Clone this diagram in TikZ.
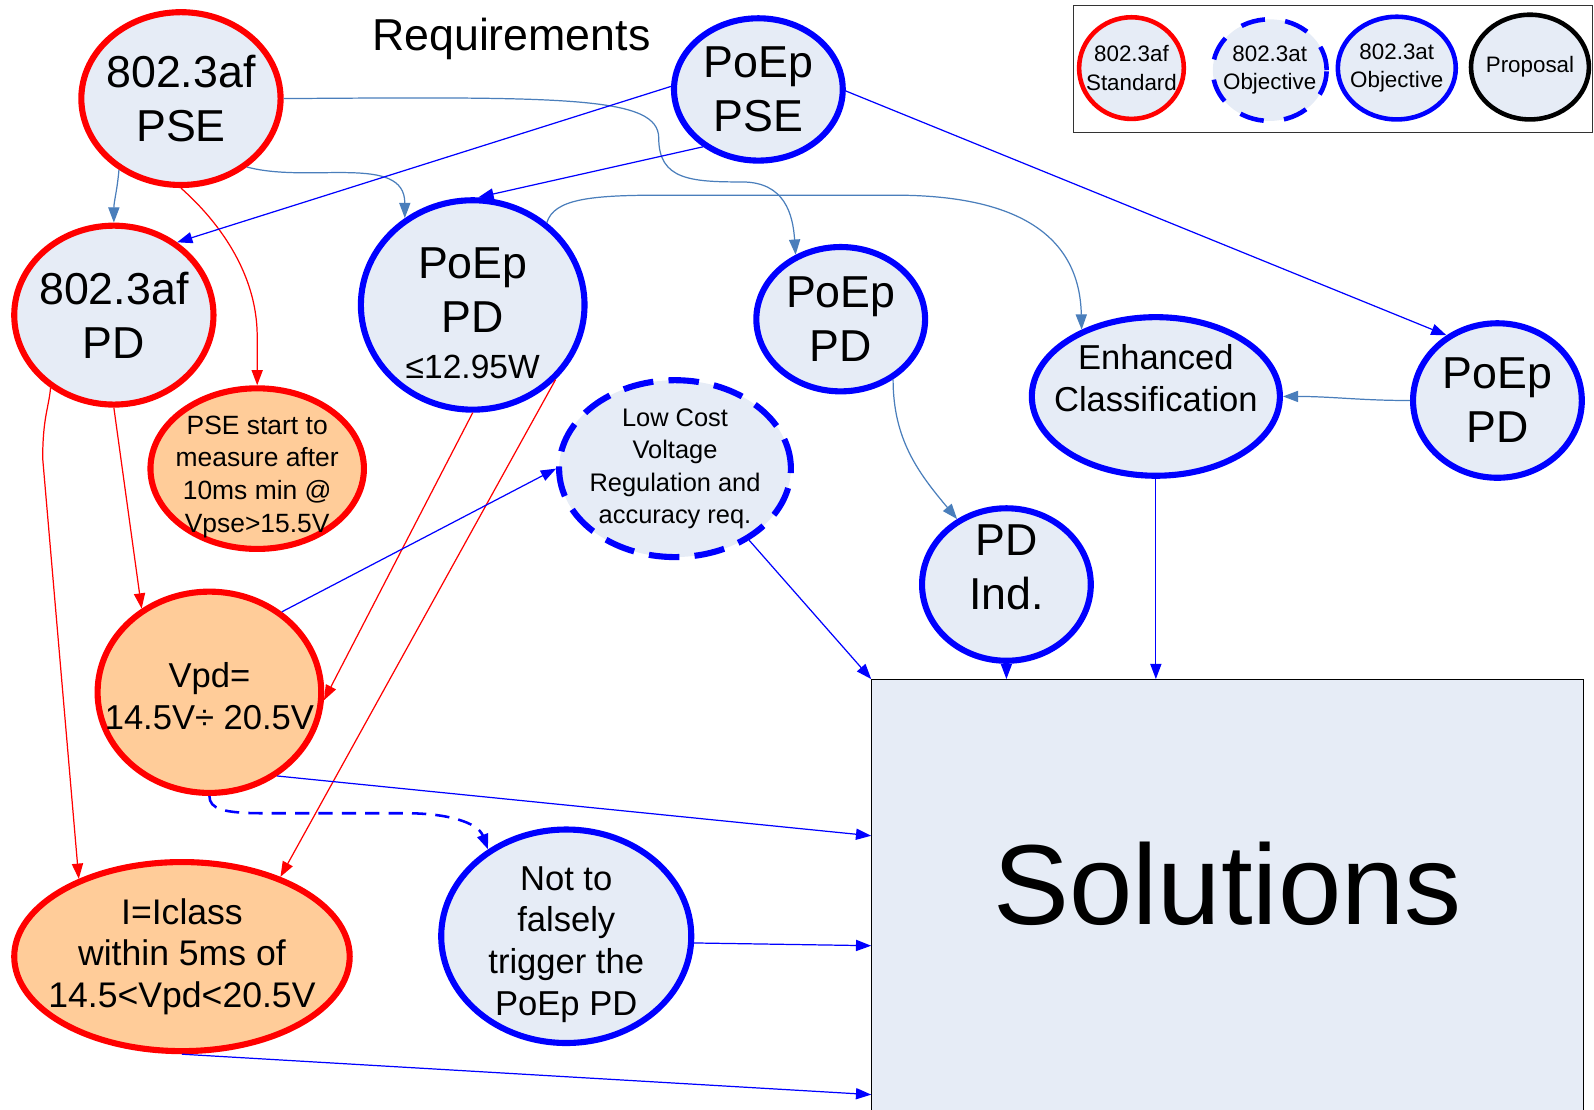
\documentclass[tikz,border=0pt]{standalone}
\usepackage{fontspec}
\setmainfont{Liberation Sans}
\usetikzlibrary{calc, positioning, arrows.meta, shapes.geometric}

\definecolor{bubble}{RGB}{230,236,246}
\definecolor{peach}{RGB}{255,204,153}
\definecolor{afred}{RGB}{255,0,0}
\definecolor{atblue}{RGB}{0,0,255}
\definecolor{steel}{RGB}{74,126,187}

\begin{document}
\begin{tikzpicture}[
    x=1pt, y=1pt,
    >={Triangle[length=15pt, width=11pt]},
    afnode/.style={draw=afred, line width=6pt, ellipse, fill=bubble, inner sep=0pt},
    atnode/.style={draw=atblue, line width=6pt, ellipse, fill=bubble, inner sep=0pt},
    atdash/.style={atnode, dash pattern=on 30pt off 15pt},
    txt/.style={align=center, inner sep=0pt, font=\fontsize{44}{53}\selectfont},
    midtxt/.style={align=center, inner sep=0pt, font=\fontsize{34}{41}\selectfont},
    smalltxt/.style={align=center, inner sep=0pt, font=\fontsize{26}{32}\selectfont},
    legtxt/.style={align=center, inner sep=0pt, font=\fontsize{22}{28}\selectfont},
    legbox/.style={draw=black!80, line width=1.2pt, minimum width=511pt, minimum height=125pt},
    redline/.style={color=afred, line width=1.2pt},
    blueline/.style={color=atblue, line width=1.2pt},
    steelline/.style={color=steel, line width=1.2pt}
]
    \useasboundingbox (0,0) rectangle (1568,1091);

    % Title
    \node[txt] (req) at (503,1053) {Requirements};

    % Legend
    \node[legbox, anchor=north west] (legend) at (1055,1086) {};
    \node[afnode, line width=4.5pt, minimum width=103pt, minimum height=100pt] (legaf) at (1113,1024) {};
    \node[legtxt] (legaf-t) at (legaf) {802.3af\\Standard};
    \node[atnode, line width=4.5pt, dash pattern=on 24pt off 20pt, minimum width=112pt, minimum height=100pt] (legdash) at (1249,1022) {};
    \node[legtxt] (legdash-t) at (legdash) {802.3at\\Objective};
    \node[atnode, line width=4.5pt, minimum width=116pt, minimum height=101pt] (legat) at (1374,1024) {};
    \node[legtxt] (legat-t) at (legat) {802.3at\\Objective};
    \node[atnode, draw=black, line width=4.5pt, minimum width=116pt, minimum height=103pt] (legprop) at (1505,1025) {};
    \node[legtxt] (legprop-t) at (legprop) {Proposal};

    % Sources
    \node[afnode, minimum width=196pt, minimum height=170pt] (afpse) at (178,994) {};
    \node[txt] (afpse-t) at (afpse) {802.3af\\PSE};
    \node[atnode, minimum width=166pt, minimum height=140pt] (poepse) at (746,1003) {};
    \node[txt] (poepse-t) at (poepse) {PoEp\\PSE};

    % Powered devices
    \node[afnode, minimum width=196pt, minimum height=176pt] (afpd) at (112,781) {};
    \node[txt] (afpd-t) at (afpd) {802.3af\\PD};
    \node[atnode, minimum width=220pt, minimum height=206pt] (ppd) at (465,791) {};
    \node[txt] (ppd-t) at ([yshift=-8pt]ppd.center) {PoEp\\PD\\[-8pt]{\fontsize{33}{40}\selectfont ≤12.95W}};
    \node[atnode, minimum width=166pt, minimum height=142pt] (ppdmid) at (827,777) {};
    \node[txt] (ppdmid-t) at (ppdmid) {PoEp\\PD};
    \node[atnode, minimum width=166pt, minimum height=152pt] (ppdr) at (1473,697) {};
    \node[txt] (ppdr-t) at (ppdr) {PoEp\\PD};
    \node[atnode, minimum width=244pt, minimum height=156pt] (enh) at (1137,701) {};
    \node[midtxt] (enh-t) at ([yshift=18pt]enh.center) {Enhanced\\Classification};
    \node[atnode, minimum width=166pt, minimum height=150pt] (pdind) at (990,516) {};
    \node[txt] (pdind-t) at ([yshift=17pt]pdind.center) {PD\\Ind.};

    % Requirements
    \node[afnode, fill=peach, minimum width=210pt, minimum height=158pt] (measure) at (253,630) {};
    \node[smalltxt] (measure-t) at ([yshift=-8pt]measure.center) {PSE start to\\measure after\\10ms min @\\Vpse>15.5V};
    \node[atdash, minimum width=228pt, minimum height=174pt] (lowcost) at (664,630) {};
    \node[smalltxt, font=\fontsize{25}{32}\selectfont] (lowcost-t) at (lowcost) {Low Cost\\Voltage\\Regulation and\\accuracy req.};
    \node[afnode, fill=peach, minimum width=220pt, minimum height=198pt] (vpd) at (206,410) {};
    \node[midtxt] (vpd-t) at ([yshift=-4pt]vpd.center) {Vpd=\\14.5V÷ 20.5V};
    \node[afnode, fill=peach, minimum width=330pt, minimum height=186pt] (iclass) at (179,150) {};
    \node[midtxt, font=\fontsize{35}{41}\selectfont] (iclass-t) at (iclass) {I=Iclass\\within 5ms of\\14.5<Vpd<20.5V};
    \node[atnode, minimum width=246pt, minimum height=210pt] (nottrig) at (557,170) {};
    \node[midtxt] (nottrig-t) at ([yshift=-8pt]nottrig.center) {Not to\\falsely\\trigger the\\PoEp PD};

    % Solutions
    \node[draw=black, line width=0.8pt, fill=bubble, minimum width=700pt, minimum height=425pt,
          anchor=north west, text depth=24pt, font=\fontsize{112}{130}\selectfont] (sol) at (857,423) {Solutions};

    % 802.3af PSE links
    \draw[steelline, ->] (afpse.229) to[out=265, in=90] (afpd.north);
    \draw[steelline, ->] (afpse.-46) to[out=-15, in=90] (ppd.128);
    \draw[steelline, ->] (afpse.east) .. controls (560,996) and (648,996) .. (648,955)
        .. controls (648,914) and (680,912) .. (730,912) .. controls (772,912) and (780,880) .. (ppdmid.125);
    \draw[redline, ->] (afpse.south) .. controls (190,895) and (253,840) .. (253,760) -- (measure.north);

    % PoEp PSE links
    \draw[blueline, ->] (poepse.178) -- (afpd.49);
    \draw[blueline, ->] (poepse.226) -- (ppd.87);
    \draw[blueline, ->] (poepse.-1) -- (ppdr.128);

    % PD links
    \draw[steelline, ->] (ppd.48) .. controls (545,895) and (580,899) .. (650,899) -- (880,899)
        .. controls (1000,899) and (1062,860) .. (enh.138);
    \draw[steelline, ->] (ppdmid.-49) to[out=-90, in=130] (pdind.127);
    \draw[steelline, ->] (ppdr.west) to[out=180, in=0] (enh.east);
    \draw[redline, ->] (afpd.south) -- (vpd.129);
    \draw[redline, ->] (afpd.229) .. controls (48,690) and (42,680) .. (42,640) -- (iclass.143);
    \draw[redline, ->] (ppd.south) -- (vpd.-4);
    \draw[redline, ->] (ppd.-42) -- (iclass.39);
    \draw[blueline, ->] (vpd.48) -- (lowcost.west);
    \draw[atblue, line width=2.5pt, dash pattern=on 14pt off 9pt, ->] (vpd.south) .. controls (206,295) and (220,291) .. (260,291)
        -- (400,291) .. controls (440,291) and (470,282) .. (nottrig.132);

    % Into solutions
    \draw[blueline, ->] (lowcost.-44) -- (sol.north west);
    \draw[blueline, ->] (pdind.south) -- (pdind.south |- sol.north);
    \draw[blueline, ->] (enh.south) -- (enh.south |- sol.north);
    \draw[blueline, ->] (vpd.-51) -- ($(sol.north west)!0.362!(sol.south west)$);
    \draw[blueline, ->] (nottrig.-3) -- ($(sol.north west)!0.616!(sol.south west)$);
    \draw[blueline, ->] (iclass.south) -- ($(sol.north west)!0.96!(sol.south west)$);

\end{tikzpicture}
\end{document}
